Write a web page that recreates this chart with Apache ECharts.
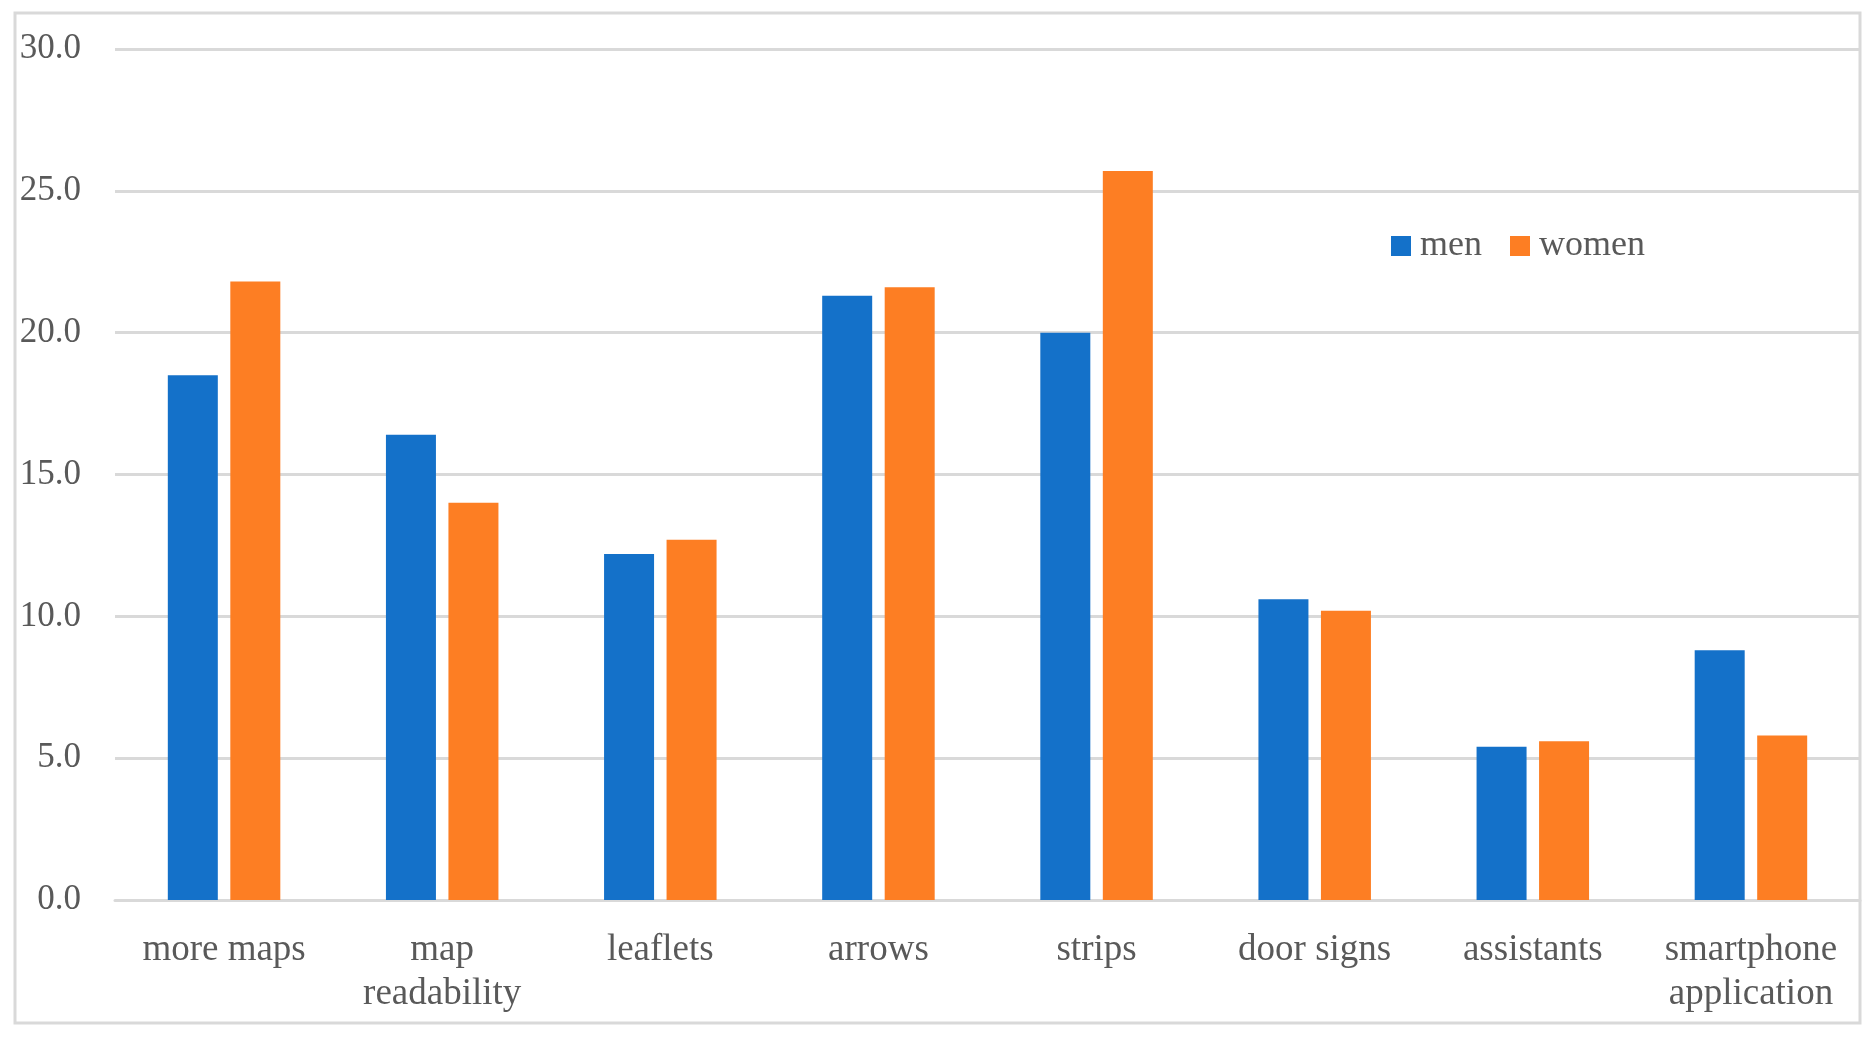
<!DOCTYPE html>
<html>
<head>
<meta charset="utf-8">
<script src="https://cdn.jsdelivr.net/npm/echarts@6/dist/echarts.min.js"></script>
<style>
html,body{margin:0;padding:0;background:#fff;}
#chart{width:1876px;height:1044px;}
</style>
</head>
<body>
<div id="chart"></div>
<script>
const categories = ["more maps", "map\nreadability", "leaflets", "arrows", "strips", "door signs", "assistants", "smartphone\napplication"];
const men = [18.5, 16.4, 12.2, 21.3, 20.0, 10.6, 5.4, 8.8];
const women = [21.8, 14.0, 12.7, 21.6, 25.7, 10.2, 5.6, 5.8];
const seriesNames = ["men", "women"];

const FONT = "Liberation Serif";
const TXT = "#595959";

const chart = echarts.init(document.getElementById('chart'));
chart.setOption({
  animation: false,
  backgroundColor: '#ffffff',
  graphic: [{
    type: 'rect',
    shape: {x: 15, y: 13, width: 1845, height: 1010},
    style: {fill: 'none', stroke: '#d9d9d9', lineWidth: 3},
    silent: true
  }],
  grid: {left: 115, right: 16, top: 49, bottom: 144, containLabel: false},
  legend: {
    data: seriesNames,
    left: 1386,
    top: 223,
    itemWidth: 20,
    itemHeight: 20,
    itemGap: 28,
    icon: 'rect',
    textStyle: {fontFamily: FONT, fontSize: 36, color: TXT, padding: [0, 0, 0, 4]}
  },
  xAxis: {
    type: 'category',
    data: categories,
    axisLine: {lineStyle: {color: '#d9d9d9', width: 3}},
    axisTick: {show: false},
    axisLabel: {fontFamily: FONT, fontSize: 37, color: TXT, margin: 28, lineHeight: 44, interval: 0}
  },
  yAxis: {
    type: 'value',
    min: 0,
    max: 30,
    interval: 5,
    axisLine: {show: false},
    axisTick: {show: false},
    splitLine: {lineStyle: {color: '#d9d9d9', width: 3}},
    axisLabel: {fontFamily: FONT, fontSize: 35, color: TXT, margin: 34, formatter: v => v.toFixed(1)}
  },
  series: [
    {name: seriesNames[0], type: 'bar', data: men, barWidth: 50, barGap: '25%', itemStyle: {color: '#1471c9'}},
    {name: seriesNames[1], type: 'bar', data: women, barWidth: 50, itemStyle: {color: '#fd7e23'}}
  ]
});
</script>
</body>
</html>
